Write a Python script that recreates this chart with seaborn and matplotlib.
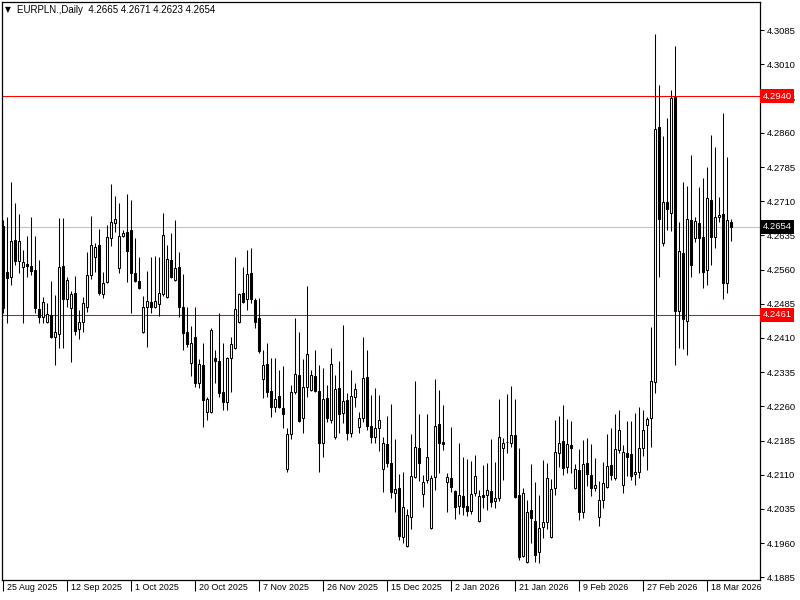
import numpy as np
import pandas as pd
import seaborn as sns
import matplotlib.pyplot as plt
import matplotlib.transforms as mtransforms

symbol = "EURPLN.,Daily"

# daily OHLC, one bar per trading day (Sunday bars included), 25 Aug 2025 onwards
opens = [
    4.2655, 4.2555, 4.2544, 4.2625, 4.2579, 4.2566, 4.2572, 4.2568, 4.2559, 4.2473,
    4.2456, 4.2445, 4.2460, 4.2412, 4.2418, 4.2568, 4.2495, 4.2475, 4.2508, 4.2429,
    4.2445, 4.2478, 4.2548, 4.2587, 4.2614, 4.2506, 4.2533, 4.2629, 4.2662, 4.2563,
    4.2633, 4.2642, 4.2646, 4.2552, 4.2535, 4.2423, 4.2478, 4.2489, 4.2478, 4.2484,
    4.2506, 4.2500, 4.2581, 4.2537, 4.2566, 4.2478, 4.2423, 4.2354, 4.2412, 4.2311,
    4.2350, 4.2248, 4.2248, 4.2365, 4.2359, 4.2291, 4.2269, 4.2365, 4.2388, 4.2445,
    4.2508, 4.2495, 4.2552, 4.2493, 4.2453, 4.2320, 4.2352, 4.2293, 4.2258, 4.2282,
    4.2256, 4.2122, 4.2199, 4.2291, 4.2328, 4.2234, 4.2302, 4.2295, 4.2326, 4.2293,
    4.2179, 4.2278, 4.2230, 4.2192, 4.2300, 4.2245, 4.2274, 4.2201, 4.2280, 4.2214,
    4.2234, 4.2324, 4.2217, 4.2192, 4.2212, 4.2122, 4.2177, 4.2135, 4.2069, 4.2080,
    4.1973, 4.1953, 4.2017, 4.2105, 4.2168, 4.2067, 4.2098, 4.1992, 4.2105, 4.2221,
    4.2181, 4.2093, 4.2102, 4.2074, 4.2041, 4.2063, 4.2041, 4.2030, 4.2069, 4.2008,
    4.2065, 4.2065, 4.2074, 4.2052, 4.2058, 4.2168, 4.2181, 4.2179, 4.2197, 4.2065,
    4.1931, 4.1918, 4.2032, 4.2008, 4.1940, 4.1995, 4.2006, 4.1973, 4.2080, 4.2157,
    4.2184, 4.2127, 4.2175, 4.2080, 4.2120, 4.2028, 4.2135, 4.2109, 4.2080, 4.2017,
    4.2054, 4.2082, 4.2131, 4.2102, 4.2164, 4.2087, 4.2157, 4.2155, 4.2111, 4.2116,
    4.2168, 4.2219, 4.2234, 4.2313, 4.2873, 4.2618, 4.2708, 4.2684, 4.2938, 4.2469,
    4.2596, 4.2447, 4.2668, 4.2629, 4.2662, 4.2631, 4.2559, 4.2712, 4.2631, 4.2675,
    4.2682, 4.2530, 4.2665,
]
highs = [
    4.2668, 4.2675, 4.2752, 4.2706, 4.2683, 4.2603, 4.2633, 4.2675, 4.2633, 4.2581,
    4.2500, 4.2487, 4.2535, 4.2504, 4.2673, 4.2673, 4.2544, 4.2513, 4.2546, 4.2471,
    4.2500, 4.2598, 4.2677, 4.2618, 4.2649, 4.2555, 4.2657, 4.2747, 4.2721, 4.2706,
    4.2646, 4.2725, 4.2712, 4.2629, 4.2587, 4.2502, 4.2557, 4.2587, 4.2590, 4.2587,
    4.2684, 4.2614, 4.2640, 4.2668, 4.2598, 4.2550, 4.2478, 4.2436, 4.2478, 4.2363,
    4.2398, 4.2280, 4.2431, 4.2383, 4.2464, 4.2398, 4.2368, 4.2412, 4.2587, 4.2508,
    4.2566, 4.2603, 4.2607, 4.2497, 4.2497, 4.2383, 4.2398, 4.2365, 4.2365, 4.2339,
    4.2348, 4.2212, 4.2306, 4.2453, 4.2423, 4.2363, 4.2524, 4.2339, 4.2383, 4.2350,
    4.2344, 4.2306, 4.2388, 4.2328, 4.2359, 4.2438, 4.2289, 4.2339, 4.2311, 4.2247,
    4.2412, 4.2383, 4.2284, 4.2300, 4.2284, 4.2192, 4.2238, 4.2265, 4.2188, 4.2111,
    4.2116, 4.2034, 4.2199, 4.2315, 4.2243, 4.2109, 4.2243, 4.2109, 4.2320, 4.2295,
    4.2263, 4.2113, 4.2214, 4.2076, 4.2179, 4.2149, 4.2144, 4.2140, 4.2153, 4.2076,
    4.2131, 4.2135, 4.2188, 4.2138, 4.2276, 4.2190, 4.2287, 4.2304, 4.2276, 4.2168,
    4.2080, 4.2054, 4.2133, 4.2094, 4.2065, 4.2142, 4.2135, 4.2100, 4.2230, 4.2238,
    4.2263, 4.2232, 4.2228, 4.2133, 4.2166, 4.2186, 4.2190, 4.2177, 4.2146, 4.2096,
    4.2138, 4.2199, 4.2212, 4.2243, 4.2252, 4.2175, 4.2228, 4.2228, 4.2245, 4.2258,
    4.2252, 4.2236, 4.2434, 4.3076, 4.2964, 4.2853, 4.2892, 4.2953, 4.3050, 4.2664,
    4.2752, 4.2743, 4.2811, 4.2675, 4.2741, 4.2760, 4.2785, 4.2855, 4.2829, 4.2719,
    4.2903, 4.2807, 4.2671,
]
lows = [
    4.2465, 4.2442, 4.2526, 4.2570, 4.2552, 4.2442, 4.2544, 4.2548, 4.2464, 4.2442,
    4.2442, 4.2442, 4.2410, 4.2350, 4.2388, 4.2388, 4.2478, 4.2357, 4.2416, 4.2407,
    4.2423, 4.2467, 4.2539, 4.2555, 4.2504, 4.2497, 4.2530, 4.2612, 4.2642, 4.2552,
    4.2631, 4.2533, 4.2464, 4.2533, 4.2517, 4.2420, 4.2390, 4.2464, 4.2475, 4.2458,
    4.2502, 4.2498, 4.2542, 4.2535, 4.2456, 4.2383, 4.2390, 4.2326, 4.2302, 4.2300,
    4.2215, 4.2230, 4.2245, 4.2311, 4.2280, 4.2252, 4.2252, 4.2291, 4.2386, 4.2442,
    4.2487, 4.2471, 4.2487, 4.2431, 4.2378, 4.2278, 4.2280, 4.2236, 4.2247, 4.2256,
    4.2212, 4.2116, 4.2188, 4.2287, 4.2225, 4.2201, 4.2280, 4.2293, 4.2291, 4.2116,
    4.2149, 4.2225, 4.2223, 4.2188, 4.2201, 4.2223, 4.2186, 4.2192, 4.2258, 4.2201,
    4.2225, 4.2208, 4.2179, 4.2179, 4.2162, 4.2072, 4.2127, 4.2058, 4.2028, 4.1966,
    4.1960, 4.1951, 4.1990, 4.2102, 4.2096, 4.2039, 4.2091, 4.1990, 4.2076, 4.2113,
    4.2164, 4.2028, 4.2072, 4.2012, 4.2023, 4.2021, 4.2019, 4.2023, 4.2063, 4.2006,
    4.2036, 4.2032, 4.2039, 4.2036, 4.2052, 4.2098, 4.2157, 4.2171, 4.2058, 4.1922,
    4.1929, 4.1916, 4.1960, 4.1918, 4.1916, 4.1971, 4.1990, 4.1971, 4.2065, 4.2127,
    4.2109, 4.2113, 4.2113, 4.2078, 4.2010, 4.2015, 4.2085, 4.2063, 4.2074, 4.1997,
    4.2036, 4.2080, 4.2098, 4.2098, 4.2157, 4.2069, 4.2107, 4.2098, 4.2087, 4.2102,
    4.2151, 4.2120, 4.2171, 4.2289, 4.2544, 4.2612, 4.2646, 4.2644, 4.2350, 4.2388,
    4.2385, 4.2372, 4.2544, 4.2620, 4.2552, 4.2520, 4.2526, 4.2570, 4.2607, 4.2664,
    4.2495, 4.2508, 4.2623,
]
closes = [
    4.2475, 4.2541, 4.2623, 4.2579, 4.2623, 4.2577, 4.2568, 4.2557, 4.2475, 4.2456,
    4.2489, 4.2462, 4.2412, 4.2423, 4.2566, 4.2495, 4.2537, 4.2506, 4.2425, 4.2445,
    4.2487, 4.2548, 4.2614, 4.2609, 4.2508, 4.2530, 4.2631, 4.2664, 4.2671, 4.2633,
    4.2640, 4.2601, 4.2552, 4.2535, 4.2520, 4.2478, 4.2491, 4.2478, 4.2491, 4.2508,
    4.2635, 4.2583, 4.2544, 4.2563, 4.2478, 4.2420, 4.2396, 4.2399, 4.2311, 4.2352,
    4.2274, 4.2276, 4.2427, 4.2359, 4.2289, 4.2269, 4.2365, 4.2396, 4.2473, 4.2506,
    4.2489, 4.2550, 4.2495, 4.2445, 4.2381, 4.2350, 4.2291, 4.2258, 4.2276, 4.2258,
    4.2243, 4.2199, 4.2291, 4.2330, 4.2228, 4.2302, 4.2374, 4.2328, 4.2293, 4.2179,
    4.2276, 4.2234, 4.2352, 4.2298, 4.2243, 4.2271, 4.2201, 4.2282, 4.2298, 4.2234,
    4.2322, 4.2217, 4.2192, 4.2212, 4.2230, 4.2179, 4.2135, 4.2072, 4.2078, 4.1975,
    4.2039, 4.2021, 4.2107, 4.2171, 4.2135, 4.2093, 4.2149, 4.2102, 4.2217, 4.2179,
    4.2177, 4.2105, 4.2082, 4.2039, 4.2065, 4.2039, 4.2030, 4.2067, 4.2107, 4.2063,
    4.2061, 4.2076, 4.2050, 4.2058, 4.2192, 4.2179, 4.2182, 4.2197, 4.2061, 4.1929,
    4.2069, 4.2028, 4.2014, 4.1933, 4.1992, 4.2006, 4.2102, 4.2078, 4.2160, 4.2179,
    4.2124, 4.2177, 4.2168, 4.2122, 4.2028, 4.2133, 4.2111, 4.2080, 4.2087, 4.2054,
    4.2091, 4.2129, 4.2109, 4.2166, 4.2208, 4.2160, 4.2149, 4.2107, 4.2116, 4.2168,
    4.2208, 4.2232, 4.2315, 4.2868, 4.2671, 4.2708, 4.2693, 4.2936, 4.2469, 4.2601,
    4.2451, 4.2671, 4.2570, 4.2666, 4.2629, 4.2555, 4.2717, 4.2631, 4.2675, 4.2679,
    4.2530, 4.2668, 4.2654,
]

date_bars = [0, 16, 32, 48, 64, 80, 96, 112, 128, 144, 160, 176]
date_labels = [
    "25 Aug 2025", "12 Sep 2025", "1 Oct 2025", "20 Oct 2025", "7 Nov 2025",
    "26 Nov 2025", "15 Dec 2025", "2 Jan 2026", "21 Jan 2026", "9 Feb 2026",
    "27 Feb 2026", "18 Mar 2026",
]
price_ticks = [
    4.3085, 4.3010, 4.2935, 4.2860, 4.2785, 4.2710, 4.2635, 4.2560, 4.2485,
    4.2410, 4.2335, 4.2260, 4.2185, 4.2110, 4.2035, 4.1960, 4.1885,
]
levels = [4.2940, 4.2461]
last_price = 4.2654

df = pd.DataFrame({"open": opens, "high": highs, "low": lows, "close": closes})
df["bar"] = np.arange(len(df))
df["bull"] = df["close"] >= df["open"]
df["body_low"] = df[["open", "close"]].min(axis=1)
df["body_h"] = (df["close"] - df["open"]).abs().clip(lower=0.00004)

sns.set_theme(style="white")
plt.rcParams["font.family"] = ["Liberation Sans", "DejaVu Sans"]

fig = plt.figure(figsize=(8, 6), dpi=100)
ax = fig.add_axes([2 / 800, 20 / 600, 758 / 800, 578 / 600])
ax.set_facecolor("white")

# level lines and last price line
for lv in levels:
    ax.axhline(lv, color="#ff0000", linewidth=0.75, zorder=1)
ax.axhline(last_price, color="#c0c0c0", linewidth=0.75, zorder=1)

# candles: wick then body
ax.vlines(df["bar"], df["low"], df["high"], color="black", linewidth=0.75, zorder=2)
ax.bar(
    df["bar"], df["body_h"], bottom=df["body_low"], width=0.5,
    color=np.where(df["bull"], "white", "black"),
    edgecolor="black", linewidth=0.75, zorder=3,
)

ax.set_xlim(-0.33, 189.2)
ax.set_ylim(4.1879, 4.3147)

for s in ax.spines.values():
    s.set_color("black")
    s.set_linewidth(0.9)

ax.yaxis.tick_right()
ax.set_yticks(price_ticks)
ax.set_yticklabels([f"{p:.4f}" for p in price_ticks])
ax.tick_params(axis="y", which="both", right=True, left=False, direction="out",
               length=3, width=0.75, pad=2, labelsize=6.8, colors="black")

ax.set_xticks(date_bars)
ax.set_xticklabels(date_labels, ha="left")
ax.tick_params(axis="x", bottom=True, direction="out", length=8, width=0.75,
               pad=-5.5, labelsize=6.4, colors="black")
offset = mtransforms.ScaledTranslation(2.5 / 72, 0, fig.dpi_scale_trans)
for lab in ax.get_xticklabels():
    lab.set_transform(lab.get_transform() + offset)

# price boxes on the right scale
for lv in levels:
    ax.text(1.0035, lv, f"{lv:.4f}", transform=ax.get_yaxis_transform(),
            color="white", fontsize=6.8, ha="left", va="center", zorder=6,
            clip_on=False,
            bbox=dict(boxstyle="square,pad=0.25", fc="#ff0000", ec="none"))
ax.text(1.0035, last_price, f"{last_price:.4f}", transform=ax.get_yaxis_transform(),
        color="white", fontsize=6.8, ha="left", va="center", zorder=6,
        clip_on=False,
        bbox=dict(boxstyle="square,pad=0.25", fc="black", ec="none"))

# header
fig.text(5 / 800, 1 - 10 / 600, "\u25bc", fontsize=5.5, va="center",
         family=["DejaVu Sans"], color="black")
header = (f"{symbol}  {opens[-1]:.4f} {highs[-1]:.4f} "
          f"{lows[-1]:.4f} {closes[-1]:.4f}")
fig.text(17 / 800, 1 - 10 / 600, header, fontsize=7, va="center", color="black")

fig.savefig("out.png", dpi=100)
